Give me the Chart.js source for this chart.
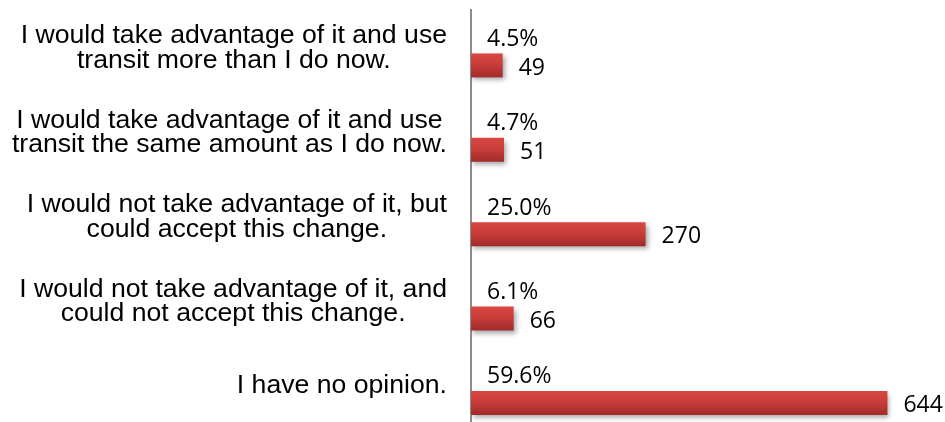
<!DOCTYPE html>
<html><head><meta charset="utf-8">
<script src="https://cdn.jsdelivr.net/npm/chart.js@4"></script>
<style>
html,body{margin:0;padding:0;background:#fff;overflow:hidden;width:945px;height:422px}
#wrap{position:relative;width:945px;height:432px}
</style></head>
<body><div id="wrap"><canvas id="c"></canvas></div>
<script>
const categories = [
  ["I would take advantage of it and use", "transit more than I do now."],
  ["I would take advantage of it and use", "transit the same amount as I do now."],
  ["I would not take advantage of it, but", "could accept this change."],
  ["I would not take advantage of it, and", "could not accept this change."],
  ["I have no opinion."]
];
const counts = [49, 51, 270, 66, 644];
const percents = [4.5, 4.7, 25.0, 6.1, 59.6];

const CAT = 0.626, BARP = 0.908;

function barGradient(c) {
  if (c.type !== 'data' || !c.chart.chartArea) return '#c43a37';
  const ch = c.chart, ys = ch.scales.y;
  const band = (ys.bottom - ys.top) / categories.length;
  const center = ys.getPixelForValue(c.dataIndex) + band * CAT / 4;
  const half = band * CAT / 2 * BARP / 2;
  const g = ch.ctx.createLinearGradient(0, center - half, 0, center + half);
  g.addColorStop(0, '#d94741');
  g.addColorStop(0.45, '#c93d3a');
  g.addColorStop(1, '#a02b29');
  return g;
}

const labelsPlugin = {
  id: 'labels',
  beforeDatasetDraw(chart, args) {
    if (args.index === 1) {
      const ctx = chart.ctx;
      ctx.save();
      ctx.shadowColor = 'rgba(0,0,0,0.35)';
      ctx.shadowBlur = 5;
      ctx.shadowOffsetX = 2;
      ctx.shadowOffsetY = 3;
    }
  },
  afterDatasetDraw(chart, args) {
    if (args.index === 1) chart.ctx.restore();
  },
  afterDraw(chart) {
    const ctx = chart.ctx, ys = chart.scales.y, area = chart.chartArea;
    ctx.save();
    // category labels: block right-aligned, lines centered within block
    const fs = 25, sx = 1.065;
    ctx.font = fs + 'px "Liberation Sans", Arial, sans-serif';
    ctx.fillStyle = '#000';
    ctx.textAlign = 'center';
    ctx.textBaseline = 'alphabetic';
    const lh = 24.5;
    categories.forEach((lines, i) => {
      const c = ys.getPixelForValue(i) - 5.5;
      const w = Math.max(...lines.map(l => ctx.measureText(l).width)) * sx;
      const cx = area.left - 24 - w / 2;
      lines.forEach((l, k) => {
        const mid = c - (lines.length - 1) * lh / 2 + k * lh;
        ctx.save();
        ctx.translate(cx, mid + 0.358 * fs);
        ctx.scale(sx, 1);
        ctx.fillText(l, 0, 0);
        ctx.restore();
      });
    });
    // value labels
    const vs = 23;
    ctx.font = vs + 'px "Open Sans", sans-serif';
    ctx.textAlign = 'left';
    const m0 = chart.getDatasetMeta(0), m1 = chart.getDatasetMeta(1);
    percents.forEach((p, i) => {
      const el = m0.data[i];
      ctx.fillText(p.toFixed(1) + '%', area.left + 16, el.y + 0.357 * vs - 1.5);
    });
    counts.forEach((v, i) => {
      const el = m1.data[i];
      ctx.fillText(String(v), el.x + 16, el.y + 0.357 * vs + 1);
    });
    ctx.restore();
  }
};

new Chart(document.getElementById('c'), {
  type: 'bar',
  data: {
    labels: categories,
    datasets: [
      { data: percents, xAxisID: 'xp', backgroundColor: 'rgba(0,0,0,0)', borderWidth: 0,
        categoryPercentage: CAT, barPercentage: BARP },
      { data: counts, xAxisID: 'x', backgroundColor: barGradient, borderWidth: 0,
        categoryPercentage: CAT, barPercentage: BARP }
    ]
  },
  options: {
    indexAxis: 'y',
    responsive: true,
    maintainAspectRatio: false,
    animation: false,
    layout: { padding: { top: 10, left: 0, right: 0, bottom: 0 } },
    plugins: { legend: { display: false }, tooltip: { enabled: false } },
    scales: {
      x: { display: false, min: 0, max: 733 },
      xp: { display: false, min: 0, max: 100 },
      y: {
        position: 'left',
        grid: { display: false, drawTicks: false },
        border: { display: true, color: '#8c8c8c', width: 2 },
        ticks: { display: false },
        afterFit: s => { s.width = 471; }
      }
    }
  },
  plugins: [labelsPlugin]
});
</script>
</body></html>
